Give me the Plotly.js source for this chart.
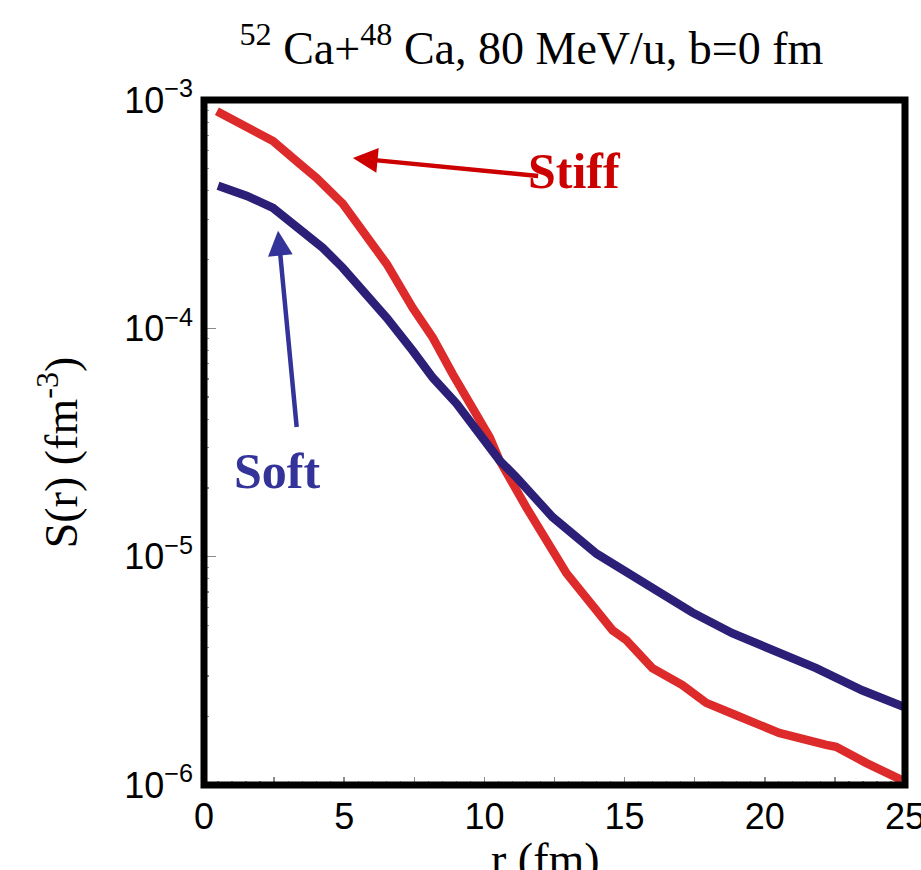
<!DOCTYPE html>
<html>
<head>
<meta charset="utf-8">
<script src="https://cdn.plot.ly/plotly-3.0.1.min.js"></script>
<style>html,body{margin:0;padding:0;background:#fff;}#chart{width:921px;height:870px;}</style>
</head>
<body>
<div id="chart"></div>
<script>
// Stiff (red) curve: r (fm) and S(r) (fm^-3)
const stiffR = [0.46, 1.53, 2.46, 3.42, 4.02, 4.95, 5.45, 6.52, 7.44, 8.16, 8.87, 9.58, 10.19, 10.54, 11.50, 12.93, 13.50, 14.00, 14.57, 15.06, 15.99, 17.06, 17.91, 18.98, 20.51, 22.19, 22.54, 23.61, 24.89];
const stiffS = [8.93e-4, 7.53e-4, 6.61e-4, 5.25e-4, 4.55e-4, 3.51e-4, 2.86e-4, 1.91e-4, 1.23e-4, 9.1e-5, 6.3e-5, 4.37e-5, 3.33e-5, 2.64e-5, 1.64e-5, 8.45e-6, 6.92e-6, 5.65e-6, 4.76e-6, 4.31e-6, 3.25e-6, 2.74e-6, 2.29e-6, 2.02e-6, 1.69e-6, 1.50e-6, 1.47e-6, 1.25e-6, 1.05e-6];

// Soft (blue) curve
const softR = [0.50, 1.53, 2.46, 3.42, 4.24, 4.95, 5.91, 6.52, 7.44, 8.16, 9.01, 9.94, 10.54, 11.15, 12.43, 14.00, 15.99, 17.41, 18.84, 20.41, 21.83, 23.47, 25.0];
const softS = [4.21e-4, 3.80e-4, 3.37e-4, 2.67e-4, 2.25e-4, 1.84e-4, 1.35e-4, 1.11e-4, 7.98e-5, 6.08e-5, 4.68e-5, 3.33e-5, 2.64e-5, 2.22e-5, 1.49e-5, 1.03e-5, 7.26e-6, 5.70e-6, 4.62e-6, 3.82e-6, 3.25e-6, 2.60e-6, 2.19e-6];

// Axis ticks
const xTickVals = [0, 2.5, 5, 7.5, 10, 12.5, 15, 17.5, 20, 22.5, 25];
const xTickText = ['0', '', '5', '', '10', '', '15', '', '20', '', '25'];
const yTickVals = [1e-6, 1e-5, 1e-4, 1e-3];
const yTickText = ['10<sup>\u22126</sup>', '10<sup>\u22125</sup>', '10<sup>\u22124</sup>', '10<sup>\u22123</sup>'];

// Text labels
const titleText = '<sup>52</sup> Ca+<sup>48</sup> Ca, 80 MeV/u, b=0 fm';
const yTitleText = 'S(r) (fm<sup>-3</sup>)';
const xTitleText = 'r (fm)';

// Arrow annotations: [tip r, tip log10 S, tail r, tail log10 S]
const stiffArrow = [5.31, -3.254, 11.97, -3.333];
const softArrow = [2.64, -3.573, 3.31, -4.439];
const stiffLabel = [13.21, -3.311];
const softLabel = [2.60, -4.623];

const redCol = '#dd2a2a';
const blueCol = '#2b1f77';

const traces = [
  {x: stiffR, y: stiffS, mode: 'lines', type: 'scatter', name: 'Stiff',
   line: {color: redCol, width: 8.5}},
  {x: softR, y: softS, mode: 'lines', type: 'scatter', name: 'Soft',
   line: {color: blueCol, width: 8.5}}
];

const tickFont = {family: 'Liberation Sans, Arial, sans-serif', size: 36, color: '#000'};
const serif = 'Liberation Serif, Times New Roman, serif';

const layout = {
  width: 921, height: 870,
  margin: {l: 204, r: 16, t: 100, b: 85},
  paper_bgcolor: '#fff', plot_bgcolor: '#fff',
  showlegend: false,
  title: {text: titleText, font: {family: serif, size: 46, color: '#000'},
          x: 0.577, xanchor: 'center', y: 0.945, yanchor: 'middle'},
  xaxis: {
    range: [0, 25], showgrid: false, zeroline: false, showline: false,
    tickmode: 'array', tickvals: xTickVals, ticktext: xTickText,
    ticks: 'inside', ticklen: 8, tickwidth: 1.5, tickcolor: '#8a8a8a',
    tickfont: tickFont, ticklabelstandoff: 7, ticklabeloverflow: 'allow',
    minor: {ticks: 'inside', ticklen: 4, tickwidth: 1.2, tickcolor: '#8a8a8a', dtick: 0.5, tick0: 0, showgrid: false}
  },
  yaxis: {
    type: 'log', range: [-6, -3], showgrid: false, zeroline: false, showline: false,
    tickmode: 'array', tickvals: yTickVals, ticktext: yTickText,
    ticks: 'inside', ticklen: 12, tickwidth: 1.5, tickcolor: '#8a8a8a',
    tickfont: tickFont, ticklabelstandoff: 10, ticklabeloverflow: 'allow',
    minor: {ticks: 'inside', ticklen: 5, tickwidth: 1.2, tickcolor: '#8a8a8a', dtick: 'D1', showgrid: false}
  },
  shapes: [
    {type: 'rect', xref: 'paper', yref: 'paper', x0: 0, x1: 1, y0: 0, y1: 1,
     line: {color: '#000', width: 7}, layer: 'above'}
  ],
  annotations: [
    {x: stiffArrow[0], y: stiffArrow[1], ax: stiffArrow[2], ay: stiffArrow[3],
     xref: 'x', yref: 'y', axref: 'x', ayref: 'y', text: '', showarrow: true,
     arrowhead: 2, arrowsize: 1.1, arrowwidth: 4.5, arrowcolor: '#cc0000', standoff: 0},
    {x: softArrow[0], y: softArrow[1], ax: softArrow[2], ay: softArrow[3],
     xref: 'x', yref: 'y', axref: 'x', ayref: 'y', text: '', showarrow: true,
     arrowhead: 2, arrowsize: 1.1, arrowwidth: 4.5, arrowcolor: '#333399', standoff: 0},
    {x: stiffLabel[0], y: stiffLabel[1], xref: 'x', yref: 'y', text: '<b>Stiff</b>', showarrow: false,
     font: {family: serif, size: 50, color: '#cc0000'}},
    {x: softLabel[0], y: softLabel[1], xref: 'x', yref: 'y', text: '<b>Soft</b>', showarrow: false,
     font: {family: serif, size: 50, color: '#333399'}},
    {x: -0.208, y: 0.486, xref: 'paper', yref: 'paper', text: yTitleText, showarrow: false,
     textangle: -90, font: {family: serif, size: 46, color: '#000'}, xanchor: 'center', yanchor: 'middle'},
    {x: 0.487, y: -0.068, xref: 'paper', yref: 'paper', text: xTitleText, showarrow: false,
     font: {family: serif, size: 46, color: '#000'}, xanchor: 'center', yanchor: 'top'}
  ]
};

Plotly.newPlot('chart', traces, layout, {displayModeBar: false, staticPlot: true});
</script>
</body>
</html>
